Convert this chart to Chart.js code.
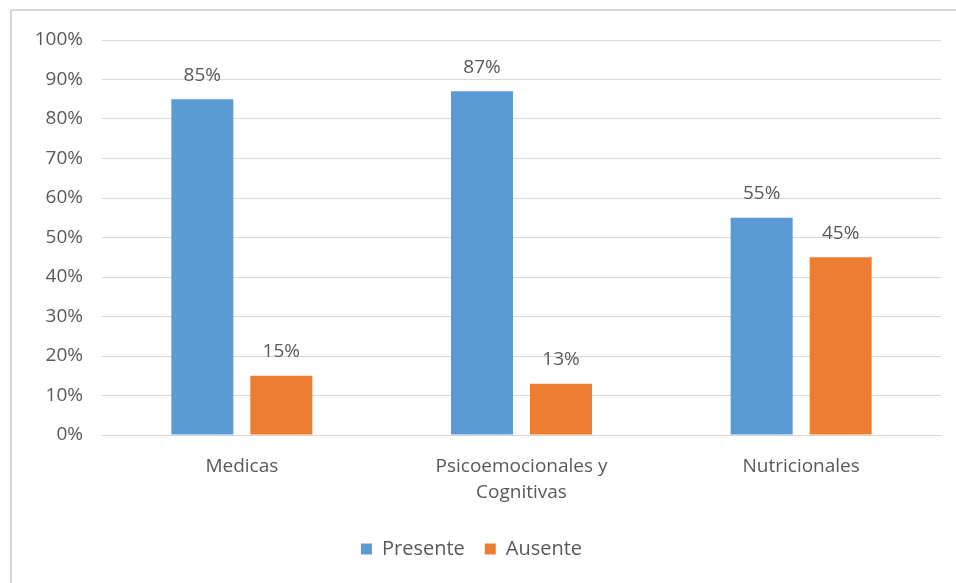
<!DOCTYPE html>
<html><head><meta charset="utf-8">
<script src="https://cdn.jsdelivr.net/npm/chart.js@4/dist/chart.umd.min.js"></script>
<style>
html,body{margin:0;padding:0;background:#fff;overflow:hidden;}
#wrap{position:absolute;left:0;top:0;width:956px;height:583px;overflow:hidden;}
#frame{position:absolute;left:10px;top:9px;width:960px;height:600px;border-left:2px solid #d9d9d9;border-top:2px solid #d9d9d9;box-sizing:border-box;}
canvas{position:absolute;left:0;top:0;}
</style></head>
<body>
<div id="wrap"><div id="frame"></div><canvas id="c" width="956" height="583"></canvas></div>
<script>
const categories = ["Medicas", ["Psicoemocionales y", "Cognitivas"], "Nutricionales"];
const presente = [85, 87, 55];
const ausente = [15, 13, 45];
const yTicks = [0,10,20,30,40,50,60,70,80,90,100];

const FONT = "'Open Sans', 'Noto Sans', sans-serif";
const TXT = "#595959";
const FS = 19;

const labelPlugin = {
  id: 'valLabels',
  afterDatasetsDraw(chart){
    const ctx = chart.ctx;
    ctx.save();
    ctx.font = FS + "px " + FONT;
    ctx.fillStyle = TXT;
    ctx.textAlign = 'center';
    ctx.textBaseline = 'middle';
    chart.data.datasets.forEach((ds, i) => {
      chart.getDatasetMeta(i).data.forEach((bar, j) => {
        ctx.fillText(ds.data[j] + '%', bar.x, bar.y - 24);
      });
    });
    ctx.restore();
  }
};

new Chart(document.getElementById('c'), {
  type: 'bar',
  data: {
    labels: categories,
    datasets: [
      {label: 'Presente', data: presente, backgroundColor: '#5B9BD5', categoryPercentage: 0.565, barPercentage: 0.785},
      {label: 'Ausente', data: ausente, backgroundColor: '#ED7D31', categoryPercentage: 0.565, barPercentage: 0.785}
    ]
  },
  options: {
    responsive: false,
    animation: false,
    layout: {padding: {top: 40, right: 15, left: 2, bottom: 14}},
    plugins: {
      legend: {
        position: 'bottom',
        labels: {font: {family: FONT, size: 20}, color: TXT, boxWidth: 11, boxHeight: 11, padding: 20}
      },
      tooltip: {enabled: false}
    },
    scales: {
      y: {
        min: 0, max: 100,
        afterFit(s){ s.width = 100; },
        afterBuildTicks(s){ s.ticks = yTicks.map(v => ({value: v})); },
        ticks: {callback: v => v + '%', font: {family: FONT, size: FS}, color: TXT, padding: 19},
        grid: {color: '#d9d9d9', drawTicks: false},
        border: {display: false}
      },
      x: {
        afterFit(s){ s.height = 84; },
        ticks: {font: {family: FONT, size: FS, lineHeight: 1.4}, color: TXT, padding: 18, maxRotation: 0},
        grid: {display: false, drawTicks: false},
        border: {display: true, color: '#d9d9d9'}
      }
    }
  },
  plugins: [labelPlugin]
});
</script>
</body></html>
